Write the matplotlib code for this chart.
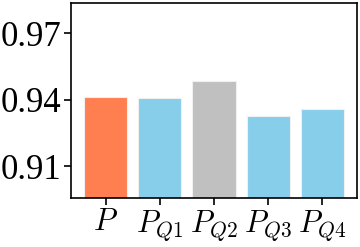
import numpy as np
import matplotlib
matplotlib.use("Agg")
import matplotlib.pyplot as plt

plt.rcParams['font.family'] = 'Liberation Serif'
plt.rcParams['mathtext.fontset'] = 'cm'

labels = [r'$P$', r'$P_{Q1}$', r'$P_{Q2}$', r'$P_{Q3}$', r'$P_{Q4}$']
values = [0.9415, 0.9409, 0.9485, 0.9328, 0.9361]
colors = ['coral', 'skyblue', 'silver', 'skyblue', 'skyblue']

fig = plt.figure(figsize=(3.6, 2.47), dpi=100)
ax = fig.add_axes([0.197, 0.198, 0.795, 0.790])

x = np.arange(len(values))
ax.bar(x, values, width=0.8, color=colors, edgecolor='#f0f0f0', linewidth=0.8)

ax.set_ylim(0.8957, 0.9837)
ax.set_yticks([0.91, 0.94, 0.97])
ax.set_yticklabels(['0.91', '0.94', '0.97'])
ax.set_xticks(x)
ax.set_xticklabels(labels)
ax.tick_params(axis='both', length=5, width=1.2, pad=2)
ax.tick_params(axis='y', labelsize=25)
ax.tick_params(axis='x', labelsize=22)
for s in ax.spines.values():
    s.set_linewidth(1.2)

fig.savefig('out.png', dpi=100)
